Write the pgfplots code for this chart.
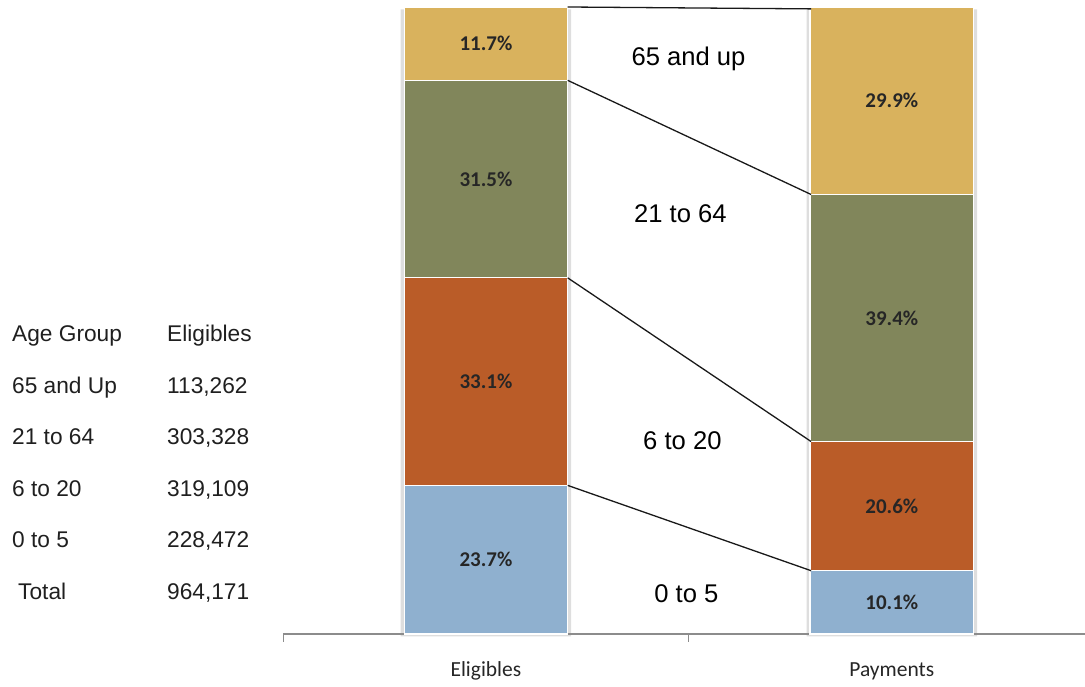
\documentclass[border=0pt]{standalone}
\usepackage{pgfplots}
\pgfplotsset{compat=1.18}
\usepackage{fontspec}
\setmainfont{Liberation Sans}
\newfontfamily\calibri{Carlito}

\definecolor{segGold}{RGB}{217,178,93}
\definecolor{segOlive}{RGB}{129,134,91}
\definecolor{segRust}{RGB}{186,92,40}
\definecolor{segBlue}{RGB}{143,176,207}
\definecolor{axisGray}{RGB}{140,140,140}

% shared frame for the stacked bars and the overlays drawn on top of them
\pgfplotsset{
  chartframe/.style={
    at={(283pt,52pt)}, anchor=south west,
    scale only axis, width=802pt, height=627pt,
    xmin=-0.5, xmax=1.476, ymin=0, ymax=100,
    clip=false,
  },
}

\begin{document}
\begin{tikzpicture}[x=1pt,y=1pt]
\useasboundingbox (0,0) rectangle (1085,686);

% summary table on the left
\begin{scope}[every node/.style={anchor=base west, inner sep=0pt,
    font=\fontsize{22.7}{26}\selectfont, text=black!88}]
  \node at (12,344)   {Age Group};  \node at (167,344)   {Eligibles};
  \node at (12,292.5) {65 and Up};  \node at (167,292.5) {113,262};
  \node at (12,241)   {21 to 64};   \node at (167,241)   {303,328};
  \node at (12,189.5) {6 to 20};    \node at (167,189.5) {319,109};
  \node at (12,138)   {0 to 5};     \node at (167,138)   {228,472};
  \node at (18,86.5)  {Total};      \node at (167,86.5)  {964,171};
\end{scope}

% soft shadow behind each bar
\begin{axis}[chartframe, hide axis, ybar, bar width=0.42, bar shift=0pt]
  \addplot[fill=black, fill opacity=0.13, draw=none, yshift=-2.5pt]
    coordinates {(0,100) (1,100)};
\end{axis}

% stacked shares by age group
\begin{axis}[chartframe,
    ybar stacked, bar width=0.403,
    axis x line=bottom, axis y line=none,
    axis line style={axisGray, line width=1.6pt, -},
    xtick={-0.5,0.5}, xticklabels={},
    xtick align=outside, major tick length=8pt,
    x tick style={axisGray, line width=1pt},
    extra x ticks={0,1}, extra x tick labels={Eligibles,Payments},
    extra x tick style={major tick length=0pt},
    xticklabel style={font=\calibri\fontsize{21.5}{25}\selectfont,
      text=black!85, anchor=base, yshift=-42pt},
  ]
  \addplot[fill=segBlue,  draw=white, line width=1.2pt] coordinates {(0,23.7) (1,10.1)};
  \addplot[fill=segRust,  draw=white, line width=1.2pt] coordinates {(0,33.1) (1,20.6)};
  \addplot[fill=segOlive, draw=white, line width=1.2pt] coordinates {(0,31.5) (1,39.4)};
  \addplot[fill=segGold,  draw=white, line width=1.2pt] coordinates {(0,11.7) (1,29.9)};
\end{axis}

% connectors, segment labels and group names
\begin{axis}[chartframe, hide axis, /pgf/number format/assume math mode=true]
  \addplot[black!90, line width=1.3pt, no marks] coordinates {(0.2015,23.7) (0.801,10.1)};
  \addplot[black!90, line width=1.3pt, no marks] coordinates {(0.2015,56.8) (0.801,30.7)};
  \addplot[black!90, line width=1.3pt, no marks] coordinates {(0.2015,88.3) (0.801,70.1)};
  \addplot[black!90, line width=1.3pt, no marks] coordinates {(0.2015,100) (0.801,99.7)};

  \addplot[only marks, mark=*, mark size=0pt, mark options={draw=none, fill=none},
    point meta=explicit,
    nodes near coords={\pgfmathprintnumber[fixed,precision=1,fixed zerofill]{\pgfplotspointmeta}\%},
    every node near coord/.append style={anchor=center, inner sep=0pt,
      font=\calibri\bfseries\fontsize{21}{24}\selectfont, text=black!85},
  ] coordinates {
    (0,11.85) [23.7] (0,40.25) [33.1] (0,72.55) [31.5] (0,94.15) [11.7]
    (1,5.05)  [10.1] (1,20.4)  [20.6] (1,50.4)  [39.4] (1,85.05) [29.9]
  };

  \begin{scope}[every node/.style={font=\fontsize{25.6}{30}\selectfont, text=black}]
    \node at (axis cs:0.499,91.8) {65 and up};
    \node at (axis cs:0.479,67.1) {21 to 64};
    \node at (axis cs:0.484,30.8) {6 to 20};
    \node at (axis cs:0.494,6.5)  {0 to 5};
  \end{scope}
\end{axis}
\end{tikzpicture}
\end{document}
